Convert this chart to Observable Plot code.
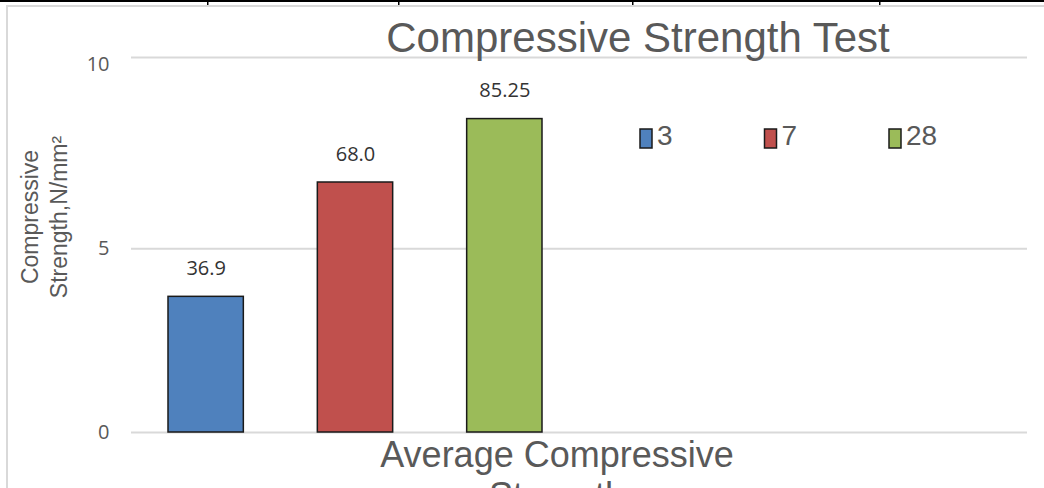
<!DOCTYPE html>
<html><head><meta charset="utf-8">
<script src="https://cdn.jsdelivr.net/npm/d3@7"></script>
<script src="https://cdn.jsdelivr.net/npm/@observablehq/plot@0.6"></script>
<style>
body{margin:0;background:#fff;}
#wrap{position:relative;width:1044px;height:488px;overflow:hidden;background:#fff;}
#wrap svg{position:absolute;left:0;top:0;}
#overlay text{font-family:"Liberation Sans", Arial, Helvetica, sans-serif;}
</style></head><body><div id="wrap"></div>
<script>
// ---- data ----
const series = ["3", "7", "28"];
const values = [36.9, 68.0, 85.25];
const valueLabels = ["36.9", "68.0", "85.25"];
const colors = ["#4f81bd", "#c0504d", "#9bbb59"];
const yTicks = [0, 50, 100];
const yTickLabels = ["0", "5", "10"];
const yMax = 102;
const slotCount = 6;
const title = "Compressive Strength Test";
const yTitle = ["Compressive", "Strength,N/mm²"];
const xTitle = ["Average Compressive", "Strength"];

const data = series.map((s, i) => ({series: s, idx: i, value: values[i], label: valueLabels[i]}));
const gridValues = [0, 50, yMax];

const chart = Plot.plot({
  width: 1044, height: 488,
  marginLeft: 131, marginRight: 17, marginTop: 57, marginBottom: 56,
  style: {background: "transparent"},
  x: {domain: [0, slotCount], axis: null},
  y: {domain: [0, yMax], axis: null},
  color: {domain: series, range: colors},
  marks: [
    Plot.ruleY(gridValues, {stroke: "#d9d9d9", strokeWidth: 2}),
    Plot.rectY(data, {x1: d => d.idx, x2: d => d.idx + 1, y: "value", fill: "series",
      stroke: "#1a1a1a", strokeWidth: 1.5, insetLeft: 37, insetRight: 37}),
    Plot.text(data, {x: d => d.idx + 0.5, y: "value", text: "label", dy: -28,
      fontSize: 20, fontFamily: "Open Sans", fill: "#333"}),
    Plot.axisY({ticks: yTicks, tickFormat: d => yTickLabels[yTicks.indexOf(d)], tickSize: 0,
      tickPadding: 22, fontSize: 20, fontFamily: "Open Sans", fill: "#595959", label: null})
  ]
});
const wrap = document.getElementById("wrap");
wrap.appendChild(chart);

// ---- decorations / titles / legend overlay ----
const svg = d3.select(wrap).append("svg").attr("id", "overlay").attr("width", 1044).attr("height", 488)
  .attr("font-family", "Liberation Sans, Arial, Helvetica, sans-serif");
// document table border at the top
svg.append("rect").attr("x", 0).attr("y", 0).attr("width", 1044).attr("height", 2).attr("fill", "#000");
[207, 398, 632, 879].forEach(x => svg.append("rect").attr("x", x).attr("y", 0).attr("width", 1.5).attr("height", 5).attr("fill", "#000"));
// chart frame
svg.append("rect").attr("x", 6).attr("y", 5).attr("width", 1040).attr("height", 2).attr("fill", "#d9d9d9");
svg.append("rect").attr("x", 6).attr("y", 5).attr("width", 2).attr("height", 490).attr("fill", "#d9d9d9");

// title
svg.append("text").attr("x", 638).attr("y", 52).attr("text-anchor", "middle")
  .attr("font-size", 42).attr("fill", "#595959").text(title);

// y title
const yt = svg.append("text").attr("transform", "translate(0,217) rotate(-90)")
  .attr("text-anchor", "middle").attr("font-size", 23).attr("fill", "#595959");
yTitle.forEach((t, i) => yt.append("tspan").attr("x", 0).attr("y", 38 + i * 29).text(t));

// x title
const xt = svg.append("text").attr("text-anchor", "middle").attr("font-size", 36).attr("fill", "#595959");
xTitle.forEach((t, i) => xt.append("tspan").attr("x", 557).attr("y", 467 + i * 41).text(t));

// legend
series.forEach((s, i) => {
  const x0 = 640 + i * 124.5;
  svg.append("rect").attr("x", x0).attr("y", 129).attr("width", 12).attr("height", 19)
    .attr("fill", colors[i]).attr("stroke", "#1a1a1a").attr("stroke-width", 1.5);
  svg.append("text").attr("x", x0 + 17).attr("y", 145).attr("font-size", 28).attr("fill", "#595959").text(s);
});
</script>
</body></html>
